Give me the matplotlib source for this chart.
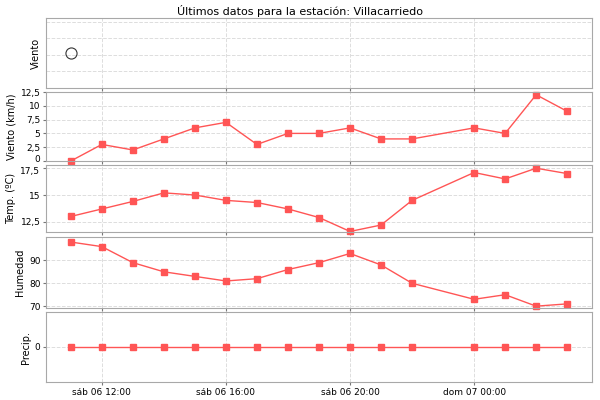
import numpy as np
import pandas as pd
import matplotlib
matplotlib.use('Agg')
import matplotlib.pyplot as plt
import matplotlib.dates as mdates
import matplotlib.transforms as mtrans
from matplotlib.ticker import FuncFormatter, FixedLocator

# hourly observations, 23:00 is missing
horas = ['2024-04-06 11:00', '2024-04-06 12:00', '2024-04-06 13:00', '2024-04-06 14:00',
         '2024-04-06 15:00', '2024-04-06 16:00', '2024-04-06 17:00', '2024-04-06 18:00',
         '2024-04-06 19:00', '2024-04-06 20:00', '2024-04-06 21:00', '2024-04-06 22:00',
         '2024-04-07 00:00', '2024-04-07 01:00', '2024-04-07 02:00', '2024-04-07 03:00']
viento_dir = [1.1]          # only one direction reading, first hour
viento = [0, 3, 2, 4, 6, 7, 3, 5, 5, 6, 4, 4, 6, 5, 12, 9]
temp = [13.0, 13.7, 14.4, 15.2, 15.0, 14.5, 14.3, 13.7, 12.9, 11.6, 12.2, 14.5, 17.1, 16.5, 17.5, 17.0]
humedad = [98, 96, 89, 85, 83, 81, 82, 86, 89, 93, 88, 80, 73, 75, 70, 71]
precip = [0] * 16
tick_horas = ['2024-04-06 12:00', '2024-04-06 16:00', '2024-04-06 20:00', '2024-04-07 00:00']
tick_labels = ['sáb 06 12:00', 'sáb 06 16:00', 'sáb 06 20:00', 'dom 07 00:00']

t = pd.to_datetime(horas)
t_dir = t[:1]
ticks = mdates.date2num(pd.to_datetime(tick_horas))

red = '#ff5555'
grey = '#a8a8a8'
plt.rcParams.update({'font.family': 'DejaVu Sans', 'font.size': 6.5})

fig = plt.figure(figsize=(6, 4), dpi=100)
L, W = 46/600, 546/600
boxes = [(18, 88), (92, 161), (165, 232), (237, 308), (312, 382)]
axes = [fig.add_axes([L, 1 - b/400, W, (b - a)/400]) for a, b in boxes]

x0 = mdates.date2num(t[0]) - 0.8/24
x1 = mdates.date2num(t[-1]) + 0.8/24

comma = FuncFormatter(lambda v, p: ('%g' % v).replace('.', ','))

for ax in axes:
    ax.set_xlim(x0, x1)
    ax.xaxis.set_major_locator(FixedLocator(ticks))
    ax.grid(True, color='#dddddd', linestyle='--', linewidth=0.7)
    ax.set_axisbelow(True)
    for s in ax.spines.values():
        s.set_color(grey)
    ax.tick_params(colors='#777777', labelcolor='black', length=2, labelsize=6.5, pad=2)
    ax.tick_params(axis='x', labelbottom=False)

# direction panel
ax = axes[0]
ax.plot(t_dir, viento_dir, 'o', mfc='none', mec='#333333', ms=8, mew=0.8)
ax.set_ylim(-1, 3.24)
ax.set_yticks([0, 1, 2, 3])
ax.tick_params(axis='y', labelleft=False, length=0)
ax.set_ylabel('Viento', fontsize=7)

series = [(axes[1], viento, 'Viento (km/h)', (0, 12.5), [0, 2.5, 5, 7.5, 10, 12.5]),
          (axes[2], temp, 'Temp. (ºC)', (11.55, 17.8), [12.5, 15, 17.5]),
          (axes[3], humedad, 'Humedad', (69.2, 100.2), [70, 80, 90]),
          (axes[4], precip, 'Precip.', (-1, 1), [0])]
for ax, vals, lab, lim, yt in series:
    ax.plot(t, vals, color=red, lw=1, marker='s', ms=5, mfc=red, mec=red, clip_on=False)
    ax.set_ylim(*lim)
    ax.set_yticks(yt)
    ax.yaxis.set_major_formatter(comma)
    ax.set_ylabel(lab, fontsize=7, labelpad=3)

# keep the "0" of the wind panel and the "17,5" of the temperature panel apart
fig.canvas.draw()
up = mtrans.ScaledTranslation(0, 1.5/72, fig.dpi_scale_trans)
down = mtrans.ScaledTranslation(0, -1.5/72, fig.dpi_scale_trans)
lbl = axes[1].get_yticklabels()[0]
lbl.set_transform(lbl.get_transform() + up)
lbl = axes[2].get_yticklabels()[-1]
lbl.set_transform(lbl.get_transform() + down)

axes[-1].tick_params(axis='x', labelbottom=True)
axes[-1].set_xticklabels(tick_labels)

fig.text(0.5, 0.988, 'Últimos datos para la estación: Villacarriedo',
         ha='center', va='top', fontsize=8)

plt.savefig('out.png', dpi=100)
